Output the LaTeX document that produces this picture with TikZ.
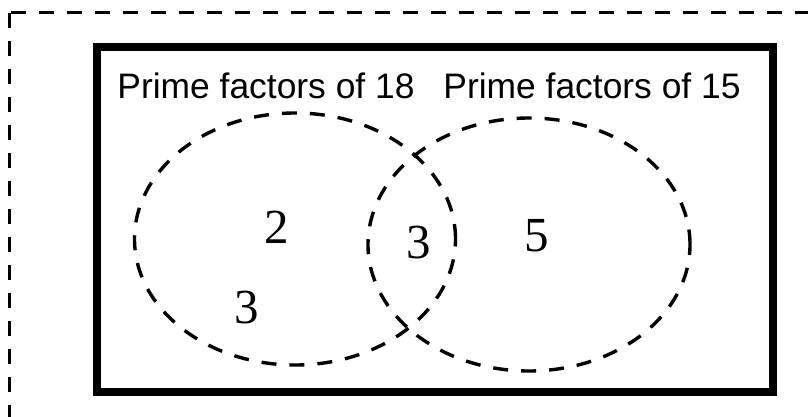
\documentclass[tikz,border=0pt]{standalone}
\usepackage{fontspec}
\setmainfont{Liberation Sans}
\newfontfamily\numfont{Liberation Serif}
\begin{document}
\begin{tikzpicture}[x=1pt,y=-1pt,
  dashline/.style={line width=3.4pt,dash pattern=on 15pt off 13pt},
  frame/.style={line width=8pt},
  lbl/.style={inner sep=0pt,anchor=base,font=\fontsize{35.4}{42}\selectfont},
  num/.style={inner sep=0pt,anchor=base,font=\numfont\fontsize{49}{58}\selectfont}]
\useasboundingbox (0,0) rectangle (808,416);
\clip (0,0) rectangle (808,416);
\fill[white] (0,0) rectangle (808,416);
% outer dashed border (extends beyond the picture)
\draw[dashline] (9.5,12.5) rectangle (840,450);
% universe frame
\draw[frame] (97,46.5) rectangle (773,392);
% sets
\draw[dashline] (295,239) ellipse [x radius=160.5pt, y radius=126pt];
\draw[dashline] (529,244.5) ellipse [x radius=161pt, y radius=126.5pt];
% labels
\node[lbl] (l18) at (266,98) {Prime factors of 18};
\node[lbl] (l15) at (592,98) {Prime factors of 15};
% elements
\node[num] (n2) at (277,243) {2};
\node[num] (n3a) at (247,323) {3};
\node[num] (n3b) at (419,258) {3};
\node[num] (n5) at (537,251) {5};
\end{tikzpicture}
\end{document}
